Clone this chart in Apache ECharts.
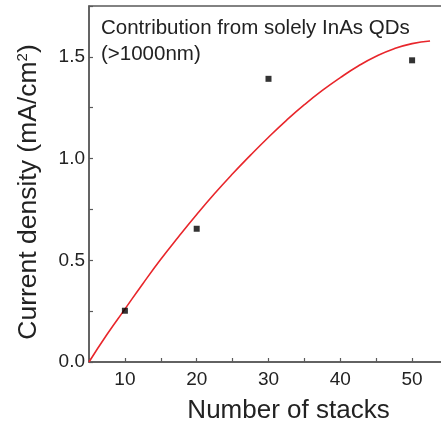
<!DOCTYPE html>
<html>
<head>
<meta charset="utf-8">
<script src="https://cdn.jsdelivr.net/npm/echarts@6/dist/echarts.min.js"></script>
<style>
    html, body { margin: 0; padding: 0; background: #fff; }
    #chart { width: 441px; height: 423px; }
</style>
</head>
<body>
<div id="chart"></div>
<script>
// measured points
const stacks = [10, 20, 30, 50];
const currentDensity = [0.252, 0.655, 1.392, 1.483];

// red fit curve
const fitX = [5, 7.5, 10, 12.5, 15, 17.5, 20, 22.5, 25, 27.5, 30, 32.5, 35, 37.5, 40, 42.5, 45, 47.5, 50, 52.5];
const fitY = [0, 0.135, 0.26, 0.385, 0.505, 0.617, 0.725, 0.828, 0.925, 1.017, 1.105, 1.188, 1.265, 1.335, 1.398, 1.455, 1.503, 1.54, 1.565, 1.578];

const xTicks = [10, 20, 30, 40, 50];
const yTicks = [0, 0.5, 1.0, 1.5];

const axisColor = '#5a5a5a';
const textColor = '#222';
const fontFamily = 'Liberation Sans, Arial, sans-serif';

const chart = echarts.init(document.getElementById('chart'));

const option = {
    animation: false,
    grid: {
        left: 89,
        top: 6,
        right: -7,
        bottom: 61,
        outerBoundsMode: 'none',
        containLabel: false,
        show: true,
        borderColor: axisColor,
        borderWidth: 1.5
    },
    xAxis: {
        type: 'value',
        min: 5,
        max: 55,
        interval: 5,
        name: 'Number of stacks',
        nameLocation: 'middle',
        nameGap: 36,
        nameTextStyle: {
            fontSize: 26,
            color: textColor,
            fontFamily: fontFamily,
            padding: [0, 0, 0, 40]
        },
        axisLine: { lineStyle: { color: axisColor, width: 1.5 } },
        axisTick: { inside: true, length: 4, lineStyle: { color: axisColor, width: 1.2 } },
        axisLabel: {
            fontSize: 19,
            color: textColor,
            fontFamily: fontFamily,
            margin: 8,
            formatter: v => xTicks.includes(v) ? String(v) : ''
        },
        splitLine: { show: false }
    },
    yAxis: {
        type: 'value',
        min: 0,
        max: 1.75,
        interval: 0.25,
        name: 'Current density (mA/cm{sup|2})',
        nameLocation: 'middle',
        nameGap: 47,
        nameTextStyle: {
            fontSize: 26.5,
            color: textColor,
            fontFamily: fontFamily,
            padding: [0, 16, 0, 0],
            rich: {
                sup: { fontSize: 15, verticalAlign: 'top', padding: [0, 0, 12, 0], color: textColor, fontFamily: fontFamily }
            }
        },
        axisLine: { lineStyle: { color: axisColor, width: 1.5 } },
        axisTick: { inside: true, length: 4, lineStyle: { color: axisColor, width: 1.2 } },
        axisLabel: {
            fontSize: 19,
            color: textColor,
            fontFamily: fontFamily,
            margin: 4,
            formatter: v => yTicks.some(t => Math.abs(t - v) < 1e-6) ? v.toFixed(1) : ''
        },
        splitLine: { show: false }
    },
    graphic: [
        {
            type: 'text',
            left: 101,
            top: 15,
            style: {
                text: 'Contribution from solely InAs QDs\n(>1000nm)',
                fontSize: 20.5,
                lineHeight: 26,
                fill: textColor,
                fontFamily: fontFamily
            }
        }
    ],
    series: [
        {
            name: 'fit',
            type: 'line',
            data: fitX.map((x, i) => [x, fitY[i]]),
            showSymbol: false,
            smooth: 0.5,
            lineStyle: { color: '#e8262b', width: 1.6 },
            z: 2
        },
        {
            name: 'data',
            type: 'scatter',
            data: stacks.map((x, i) => [x, currentDensity[i]]),
            symbol: 'rect',
            symbolSize: 6,
            itemStyle: { color: '#000' },
            z: 3
        }
    ]
};

chart.setOption(option);
window.addEventListener('resize', chart.resize);
</script>
</body>
</html>
